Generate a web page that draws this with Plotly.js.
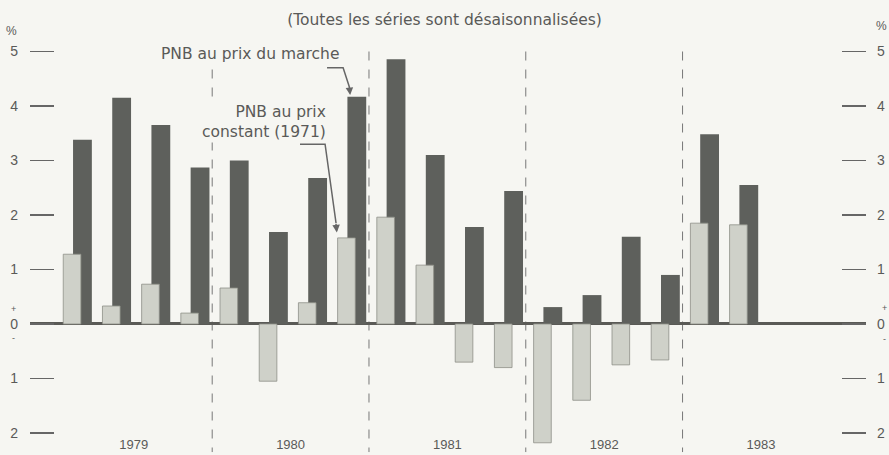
<!DOCTYPE html>
<html>
<head>
<meta charset="utf-8">
<script src="https://cdn.plot.ly/plotly-3.0.1.min.js"></script>
<style>html,body{margin:0;padding:0;background:#f6f6f2;}</style>
</head>
<body>
<div id="chart" style="width:889px;height:455px;"></div>
<script>
// Quarterly change, seasonally adjusted (%)
const years = ['1979', '1980', '1981', '1982', '1983'];
const quarterLabels = [
  '1979 T1','1979 T2','1979 T3','1979 T4',
  '1980 T1','1980 T2','1980 T3','1980 T4',
  '1981 T1','1981 T2','1981 T3','1981 T4',
  '1982 T1','1982 T2','1982 T3','1982 T4',
  '1983 T1','1983 T2'
];
// PNB au prix du marché (dark bars)
const pnbMarche = [3.38, 4.15, 3.65, 2.87, 3.0, 1.69, 2.68, 4.17, 4.86, 3.1, 1.78, 2.44, 0.31, 0.53, 1.6, 0.9, 3.48, 2.55];
// PNB au prix constant (1971) (light bars)
const pnbConstant = [1.28, 0.33, 0.73, 0.2, 0.66, -1.05, 0.39, 1.58, 1.96, 1.08, -0.7, -0.8, -2.18, -1.4, -0.75, -0.66, 1.85, 1.82];
const yTickVals = [-2, -1, 0, 1, 2, 3, 4, 5];
const yTickText = ['2', '1', '0', '1', '2', '3', '4', '5'];

const xPos = quarterLabels.map((q, i) => i);
const yearCenters = years.map((y, i) => i * 4 + 1.5);
const dividers = years.slice(1).map((y, i) => (i + 1) * 4 - 0.5);

const FONT = 'Liberation Sans, Arial, sans-serif';
const TXT = '#5a5a58';
const BG = '#f6f6f2';

const traces = [
  {
    type: 'bar', x: xPos, y: pnbMarche, name: 'PNB au prix du marché',
    text: quarterLabels, hoverinfo: 'text+y', textposition: 'none',
    offset: -0.05, width: 0.48,
    marker: {color: '#5e605c', line: {width: 0}},
    xaxis: 'x', yaxis: 'y'
  },
  {
    type: 'bar', x: xPos, y: pnbConstant, name: 'PNB au prix constant (1971)',
    text: quarterLabels, hoverinfo: 'text+y', textposition: 'none',
    offset: -0.3, width: 0.45,
    marker: {color: '#cfd1c9', line: {width: 0.8, color: '#8e8f88'}},
    xaxis: 'x', yaxis: 'y2'
  }
];

const yCommon = {
  range: [-2.404, 5.211],
  tickvals: yTickVals, ticktext: yTickText,
  ticks: 'inside', ticklen: 24, tickwidth: 1.5, tickcolor: '#666',
  showgrid: false, showline: false, fixedrange: true,
  tickfont: {family: FONT, size: 14, color: TXT}
};

const shapes = dividers.map(d => ({
  type: 'line', xref: 'x', yref: 'y', x0: d, x1: d, y0: 5.0, y1: -2.35,
  line: {color: '#777', width: 1, dash: 'dash'}, layer: 'below'
}));
// leader lines for the labels
shapes.push({type: 'path', xref: 'x', yref: 'y',
  path: 'M 6.43 4.70 L 6.84 4.70 L 7.0 4.35',
  line: {color: '#666', width: 1.5}});
shapes.push({type: 'path', xref: 'x', yref: 'y',
  path: 'M 5.74 3.30 L 6.38 3.30 L 6.66 1.85',
  line: {color: '#666', width: 1.5}});

const annFont = {family: 'DejaVu Sans, sans-serif', size: 15.5, color: TXT};
const annotations = [
  {xref: 'x', yref: 'y', x: 4.46, y: 4.95, text: 'PNB au prix du marche', showarrow: false,
   font: annFont, bgcolor: BG},
  {xref: 'x', yref: 'y', x: 6.45, y: 3.71, xanchor: 'right', align: 'right',
   text: 'PNB au prix<br>constant (1971)', showarrow: false, font: annFont, bgcolor: BG},
  // arrowheads
  {xref: 'x', yref: 'y', x: 7.02, y: 4.2, ax: -1, ay: -10, text: '', showarrow: true,
   arrowhead: 2, arrowsize: 1, arrowwidth: 1.5, arrowcolor: '#666'},
  {xref: 'x', yref: 'y', x: 6.68, y: 1.68, ax: -1, ay: -10, text: '', showarrow: true,
   arrowhead: 2, arrowsize: 1, arrowwidth: 1.5, arrowcolor: '#666'},
  // % signs and +/- marks
  {xref: 'paper', yref: 'paper', x: -0.022, y: 1.0, text: '%', showarrow: false, xanchor: 'center', yanchor: 'bottom',
   font: {family: FONT, size: 12, color: TXT}},
  {xref: 'paper', yref: 'paper', x: 1.019, y: 1.012, text: '%', showarrow: false, xanchor: 'center', yanchor: 'bottom',
   font: {family: FONT, size: 12, color: TXT}},
  {xref: 'paper', yref: 'y', x: -0.02, y: 0.28, text: '+', showarrow: false, xanchor: 'center',
   font: {family: FONT, size: 9, color: TXT}},
  {xref: 'paper', yref: 'y', x: -0.02, y: -0.26, text: '-', showarrow: false, xanchor: 'center',
   font: {family: FONT, size: 9, color: TXT}},
  {xref: 'paper', yref: 'y', x: 1.022, y: 0.3, text: '+', showarrow: false, xanchor: 'center',
   font: {family: FONT, size: 9, color: TXT}},
  {xref: 'paper', yref: 'y', x: 1.022, y: -0.28, text: '-', showarrow: false, xanchor: 'center',
   font: {family: FONT, size: 9, color: TXT}}
];

const layout = {
  width: 889, height: 455,
  margin: {l: 30, r: 23, t: 40, b: 0},
  paper_bgcolor: BG, plot_bgcolor: BG,
  showlegend: false,
  barmode: 'overlay',
  title: {
    text: '(Toutes les séries sont désaisonnalisées)',
    x: 0.5, xanchor: 'center', xref: 'container',
    y: 1 - 20 / 455, yanchor: 'middle', yref: 'container',
    font: {family: 'DejaVu Sans, sans-serif', size: 15.5, color: TXT}
  },
  xaxis: {
    range: [-1.148, 20.18],
    tickvals: yearCenters, ticktext: years,
    ticks: '', ticklabelposition: 'inside',
    showgrid: false, zeroline: false, showline: false, fixedrange: true,
    tickfont: {family: FONT, size: 13, color: TXT}
  },
  yaxis: Object.assign({}, yCommon, {
    side: 'left', zeroline: true, zerolinecolor: '#5a5a56', zerolinewidth: 3,
    ticklabelstandoff: 11
  }),
  yaxis2: Object.assign({}, yCommon, {
    side: 'right', overlaying: 'y', zeroline: false, ticklabelstandoff: 10
  }),
  shapes: shapes,
  annotations: annotations
};

Plotly.newPlot('chart', traces, layout, {displayModeBar: false, staticPlot: true});
</script>
</body>
</html>
